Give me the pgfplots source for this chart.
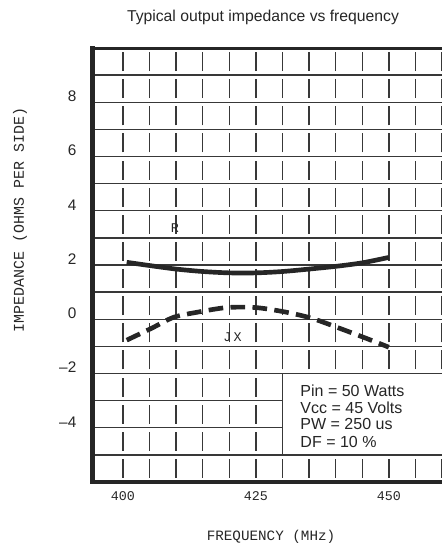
\documentclass[border=0pt]{standalone}
\usepackage{fontspec}
\setmainfont{Liberation Sans}
\setmonofont{Liberation Mono}
\usepackage{pgfplots}
\pgfplotsset{compat=1.18}

\colorlet{ink}{black!85}
\colorlet{gridc}{black!78}

\begin{document}
\begin{tikzpicture}
\begin{axis}[
  name=ax,
  scale only axis,
  width=261.75pt, height=325.5pt,
  xmin=394.36, xmax=460,
  ymin=-6, ymax=10,
  clip=false,
  xtick={400,425,450},
  xticklabels={400,425,450},
  minor xtick={405,410,415,420,430,435,440,445,455,460},
  ytick={-4,-2,...,8},
  yticklabels={--4,--2,0,2,4,6,8},
  minor ytick={-6,-5,-3,-1,1,3,5,7,9,10},
  grid=both,
  major tick length=0pt, minor tick length=0pt,
  axis line style={draw=none},
  major x grid style={gridc, line width=1.1pt, dash pattern=on 14.3pt off 6.04375pt, dash phase=17.321875pt},
  minor x grid style={gridc, line width=1.1pt, dash pattern=on 14.3pt off 6.04375pt, dash phase=17.321875pt},
  major y grid style={gridc, line width=1pt},
  minor y grid style={gridc, line width=1pt},
  yticklabel style={font=\fontsize{11.5}{12}\selectfont, text=ink, xshift=-9pt, yshift=4.5pt},
  xticklabel style={font=\ttfamily\fontsize{10}{12}\selectfont, text=ink, yshift=-4pt},
]
% legend box over the grid
\fill[white] (axis cs:430,-4.97) rectangle (axis cs:461,-2.03);
\draw[gridc, line width=1.1pt] (axis cs:430,-2) -- (axis cs:430,-5);

% R
\addplot[ink, line width=3.5pt, smooth] coordinates {
  (400.7,2.1) (405,1.98) (410,1.85) (415,1.76) (420,1.71) (425,1.71)
  (430,1.76) (435,1.85) (440,1.95) (445,2.08) (450,2.28)
};
% JX
\addplot[ink, line width=3.5pt, smooth, dash pattern=on 11pt off 5.5pt] coordinates {
  (400.7,-0.77) (405.4,-0.33) (409.5,0.07) (414,0.26) (419.5,0.43) (425,0.43)
  (430.7,0.26) (435.6,0.03) (440.7,-0.33) (445.7,-0.7) (450,-1.03)
};

\node[font=\ttfamily\fontsize{10}{12}\selectfont, text=ink] at (axis cs:409.75,3.36) {R};
\node[font=\ttfamily\fontsize{10}{12}\selectfont, text=ink] at (axis cs:420.6,-0.66) {J\,X};

\node[anchor=west, font=\fontsize{12}{13}\selectfont, text=ink] at (axis cs:432.5,-2.62) {Pin = 50 Watts};
\node[anchor=west, font=\fontsize{12}{13}\selectfont, text=ink] at (axis cs:432.5,-3.28) {Vcc = 45 Volts};
\node[anchor=west, font=\fontsize{12}{13}\selectfont, text=ink] at (axis cs:432.5,-3.87) {PW = 250 us};
\node[anchor=west, font=\fontsize{12}{13}\selectfont, text=ink] at (axis cs:432.5,-4.54) {DF = 10 \%};

% frame (no right side, picture is cut there)
\draw[ink, line width=3.75pt, line cap=rect] (rel axis cs:0,0) -- (rel axis cs:0,1);
\draw[ink, line width=3pt] (rel axis cs:0,0) -- (rel axis cs:1,0);
\draw[ink, line width=2.25pt] (rel axis cs:0,1) -- (rel axis cs:1,1);
\end{axis}

\node[font=\fontsize{11.8}{14}\selectfont, text=ink] at ([shift={(127.5pt,348.75pt)}]ax.south west) {Typical output impedance vs frequency};
\node[rotate=90, font=\ttfamily\fontsize{11.2}{12}\selectfont, text=ink] at ([shift={(-54.75pt,196.5pt)}]ax.south west) {IMPEDANCE (OHMS PER SIDE)};
\node[font=\ttfamily\fontsize{10.7}{12}\selectfont, text=ink] at ([shift={(133.5pt,-41.25pt)}]ax.south west) {FREQUENCY (MHz)};

\pgfresetboundingbox
\path[use as bounding box] ([shift={(-69.75pt,-46.5pt)}]ax.south west) rectangle ([shift={(261.75pt,361.5pt)}]ax.south west);
\end{tikzpicture}
\end{document}
